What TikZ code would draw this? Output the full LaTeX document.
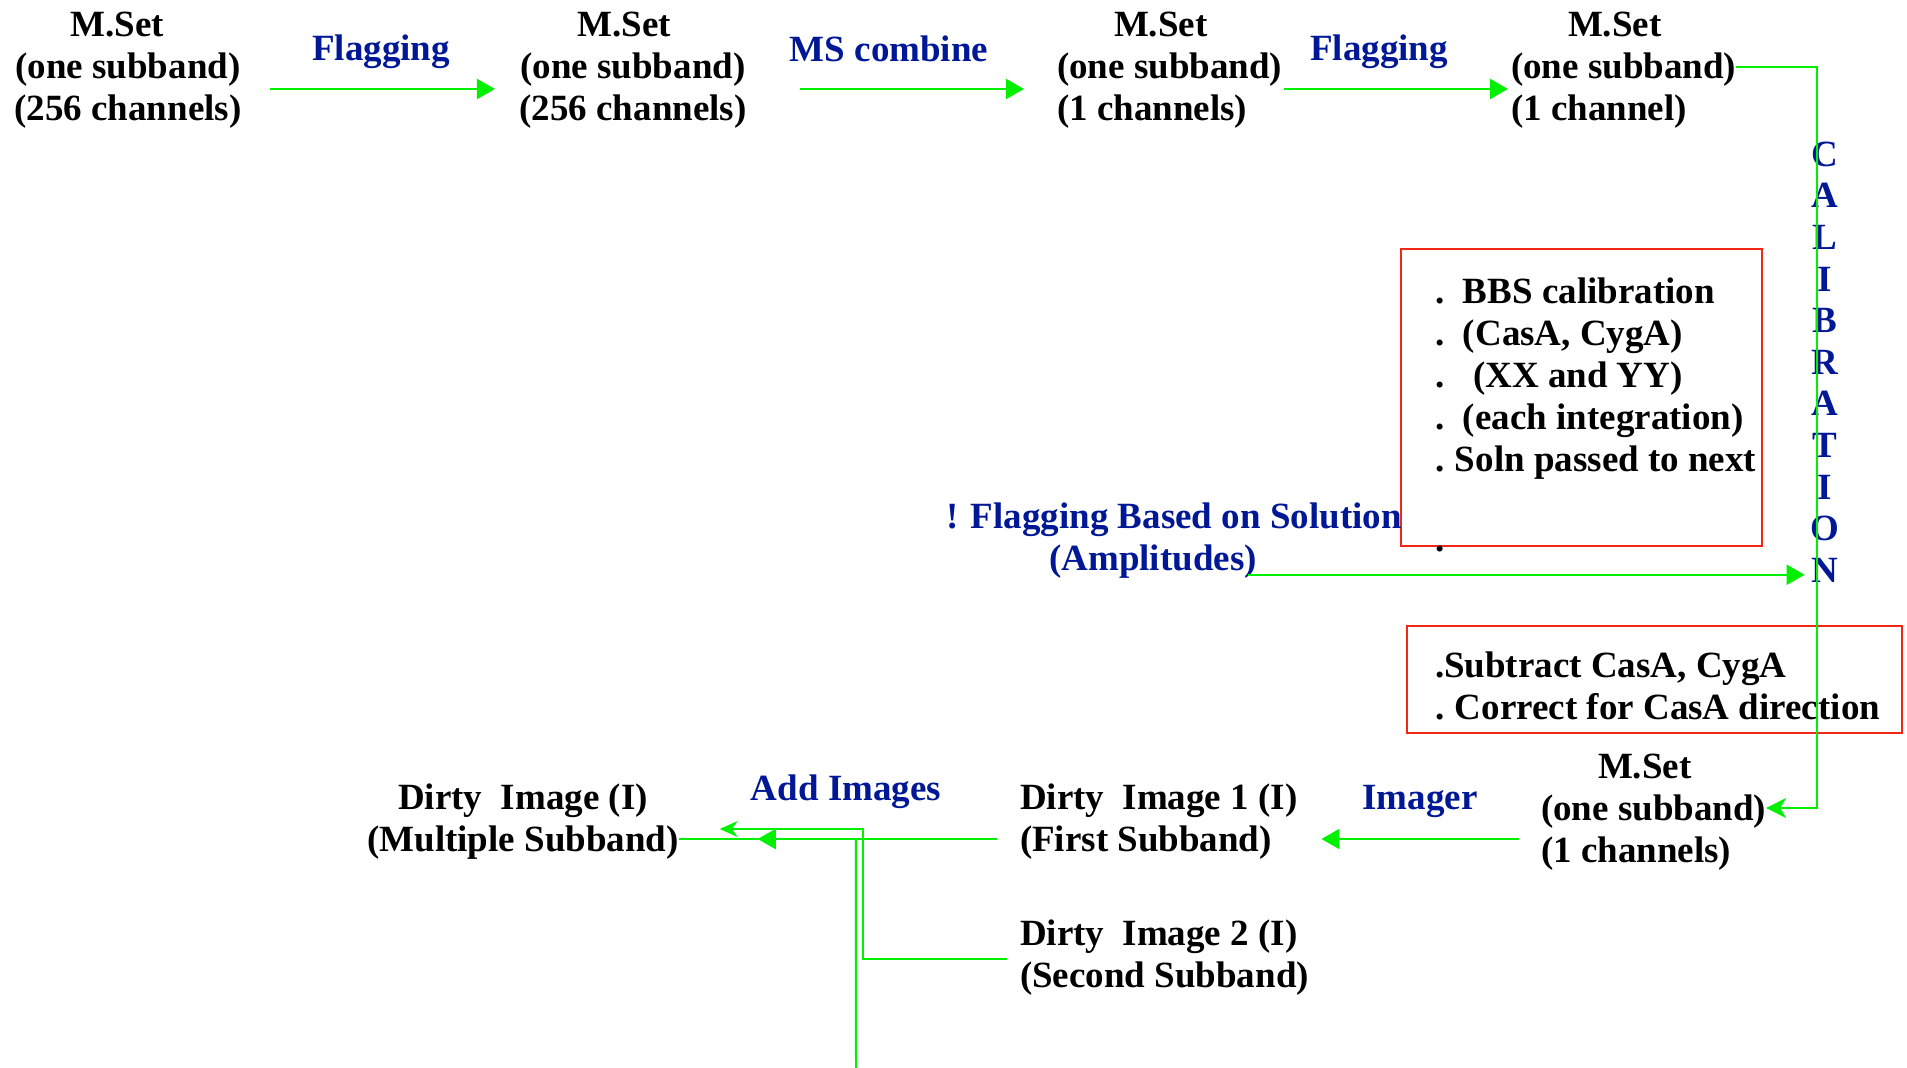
\documentclass[tikz,border=0pt]{standalone}
\usepackage{fontspec}
\setmainfont{Liberation Serif}
\usetikzlibrary{arrows.meta,calc}
\definecolor{gr}{RGB}{0,240,0}
\definecolor{nb}{RGB}{0,24,150}
\definecolor{rd}{RGB}{240,40,20}
\begin{document}
\begin{tikzpicture}[x=1pt,y=-1pt,
  txt/.style={font=\fontsize{37}{42}\selectfont\bfseries, inner sep=0pt, outer sep=0pt},
  ctxt/.style={txt, align=center},
  ltxt/.style={txt, align=left, anchor=west},
  lbl/.style={txt, text=nb},
  redbox/.style={draw=rd, line width=2pt, inner sep=0pt},
  gline/.style={draw=gr, line width=2pt},
  arr/.style={gline, -{Triangle[length=18pt,width=20pt]}},
  thinarr/.style={draw=gr, line width=1.6pt, -{Stealth[length=20pt,width=20pt,inset=6pt]}},
  notcharr/.style={draw=gr, line width=1.6pt, -{Stealth[length=18pt,width=16pt,inset=6pt]}}
]
\useasboundingbox (0,0) rectangle (1907,1068);

% top row
\node[ctxt] (n1) at (128,70) {M.Set\hspace*{22pt}\\(one subband)\\(256 channels)};
\node[ctxt] (n2) at (633,70) {M.Set\hspace*{17pt}\\(one subband)\\(256 channels)};
\node[ltxt] (n3) at (1057,70) {\hspace*{57pt}M.Set\\(one subband)\\(1 channels)};
\node[ltxt] (n4) at (1511,70) {\hspace*{57pt}M.Set\\(one subband)\\(1 channel)};

\node[lbl] (l1) at (381,52) {Flagging};
\node[lbl] (l2) at (889,49) {MS combine};
\node[lbl] (l3) at (1379,52) {Flagging};

\draw[arr, shorten <=28.5pt, shorten >=24.5pt] ([yshift=-19pt]n1.east) -- ([yshift=-19pt]n2.west);
\draw[arr, shorten <=53.5pt, shorten >=33pt] ([yshift=-19pt]n2.east) -- ([yshift=-19pt]n3.west);
\draw[arr, shorten <=2pt, shorten >=3pt] ([yshift=-19pt]n3.east) -- ([yshift=-19pt]n4.west);

% red boxes
\node[redbox, minimum width=361pt, minimum height=297pt] (box1) at (1581.5,397.5) {};
\node[txt, align=left, anchor=west] (box1t) at (1435,415)
  {\makebox[28pt][l]{.}BBS calibration\\
   \makebox[28pt][l]{.}(CasA, CygA)\\
   \makebox[38pt][l]{.}(XX and YY)\\
   \makebox[28pt][l]{.}(each integration)\\
   \makebox[20pt][l]{.}Soln passed to next\\
   \mbox{}\\[-4pt]
   .};

\node[redbox, minimum width=495pt, minimum height=107pt] (box2) at (1654.5,679.5) {};
\node[txt, align=left, anchor=west] (box2t) at (1435,686)
  {.Subtract CasA, CygA\\
   \makebox[20pt][l]{.}Correct for CasA direction};

% calibration
\node[lbl, align=center, font=\fontsize{37}{41.6}\selectfont\bfseries] (calib) at (1825,362)
  {C\\A\\L\\I\\B\\R\\A\\T\\I\\O\\N};

% flagging based on solution
\node[lbl, align=center] (flag) at (1174,541)
  {! Flagging Based on Solution\\(Amplitudes)\hspace*{42pt}};
\coordinate (fstart) at ([xshift=74pt,yshift=4pt]flag.south);
\draw[arr, shorten >=6pt] (fstart) -- (fstart -| calib.west);

% lower row
\node[ltxt] (n5) at (1541,812) {\hspace*{57pt}M.Set\\(one subband)\\(1 channels)};
\node[ltxt] (n6) at (1020,822) {Dirty\ \ Image 1 (I)\\(First Subband)};
\node[ltxt] (n7) at (1020,958) {Dirty\ \ Image 2 (I)\\(Second Subband)};
\node[ctxt] (n8) at (523,822) {Dirty\ \ Image (I)\\(Multiple Subband)};

\node[lbl] (l4) at (1420,801) {Imager};
\node[lbl] (l5) at (846,792) {Add Images};

\draw[thinarr] ([yshift=3pt]n4.east) -- ++(81,0) |- ([yshift=4pt]n5.east);

\draw[arr, shorten <=22pt, shorten >=24pt] ([yshift=-27pt]n5.west) -- ([yshift=-17pt]n6.east);

\draw[gline, shorten <=23pt] ([yshift=-17pt]n6.west) -- ([yshift=-17pt]n8.east);
\draw[arr, shorten <=23pt] ([yshift=-17pt]n6.west) -- ([xshift=79pt,yshift=-17pt]n8.east);

\draw[notcharr] ([xshift=-13pt,yshift=-1pt]n7.west) -- ++(-144,0) |- ([xshift=41pt,yshift=-7pt]n8.east);

\coordinate (bottomend) at (856,1068);
\draw[gline] ([xshift=177pt,yshift=-17pt]n8.east) -- (bottomend);
\end{tikzpicture}
\end{document}
